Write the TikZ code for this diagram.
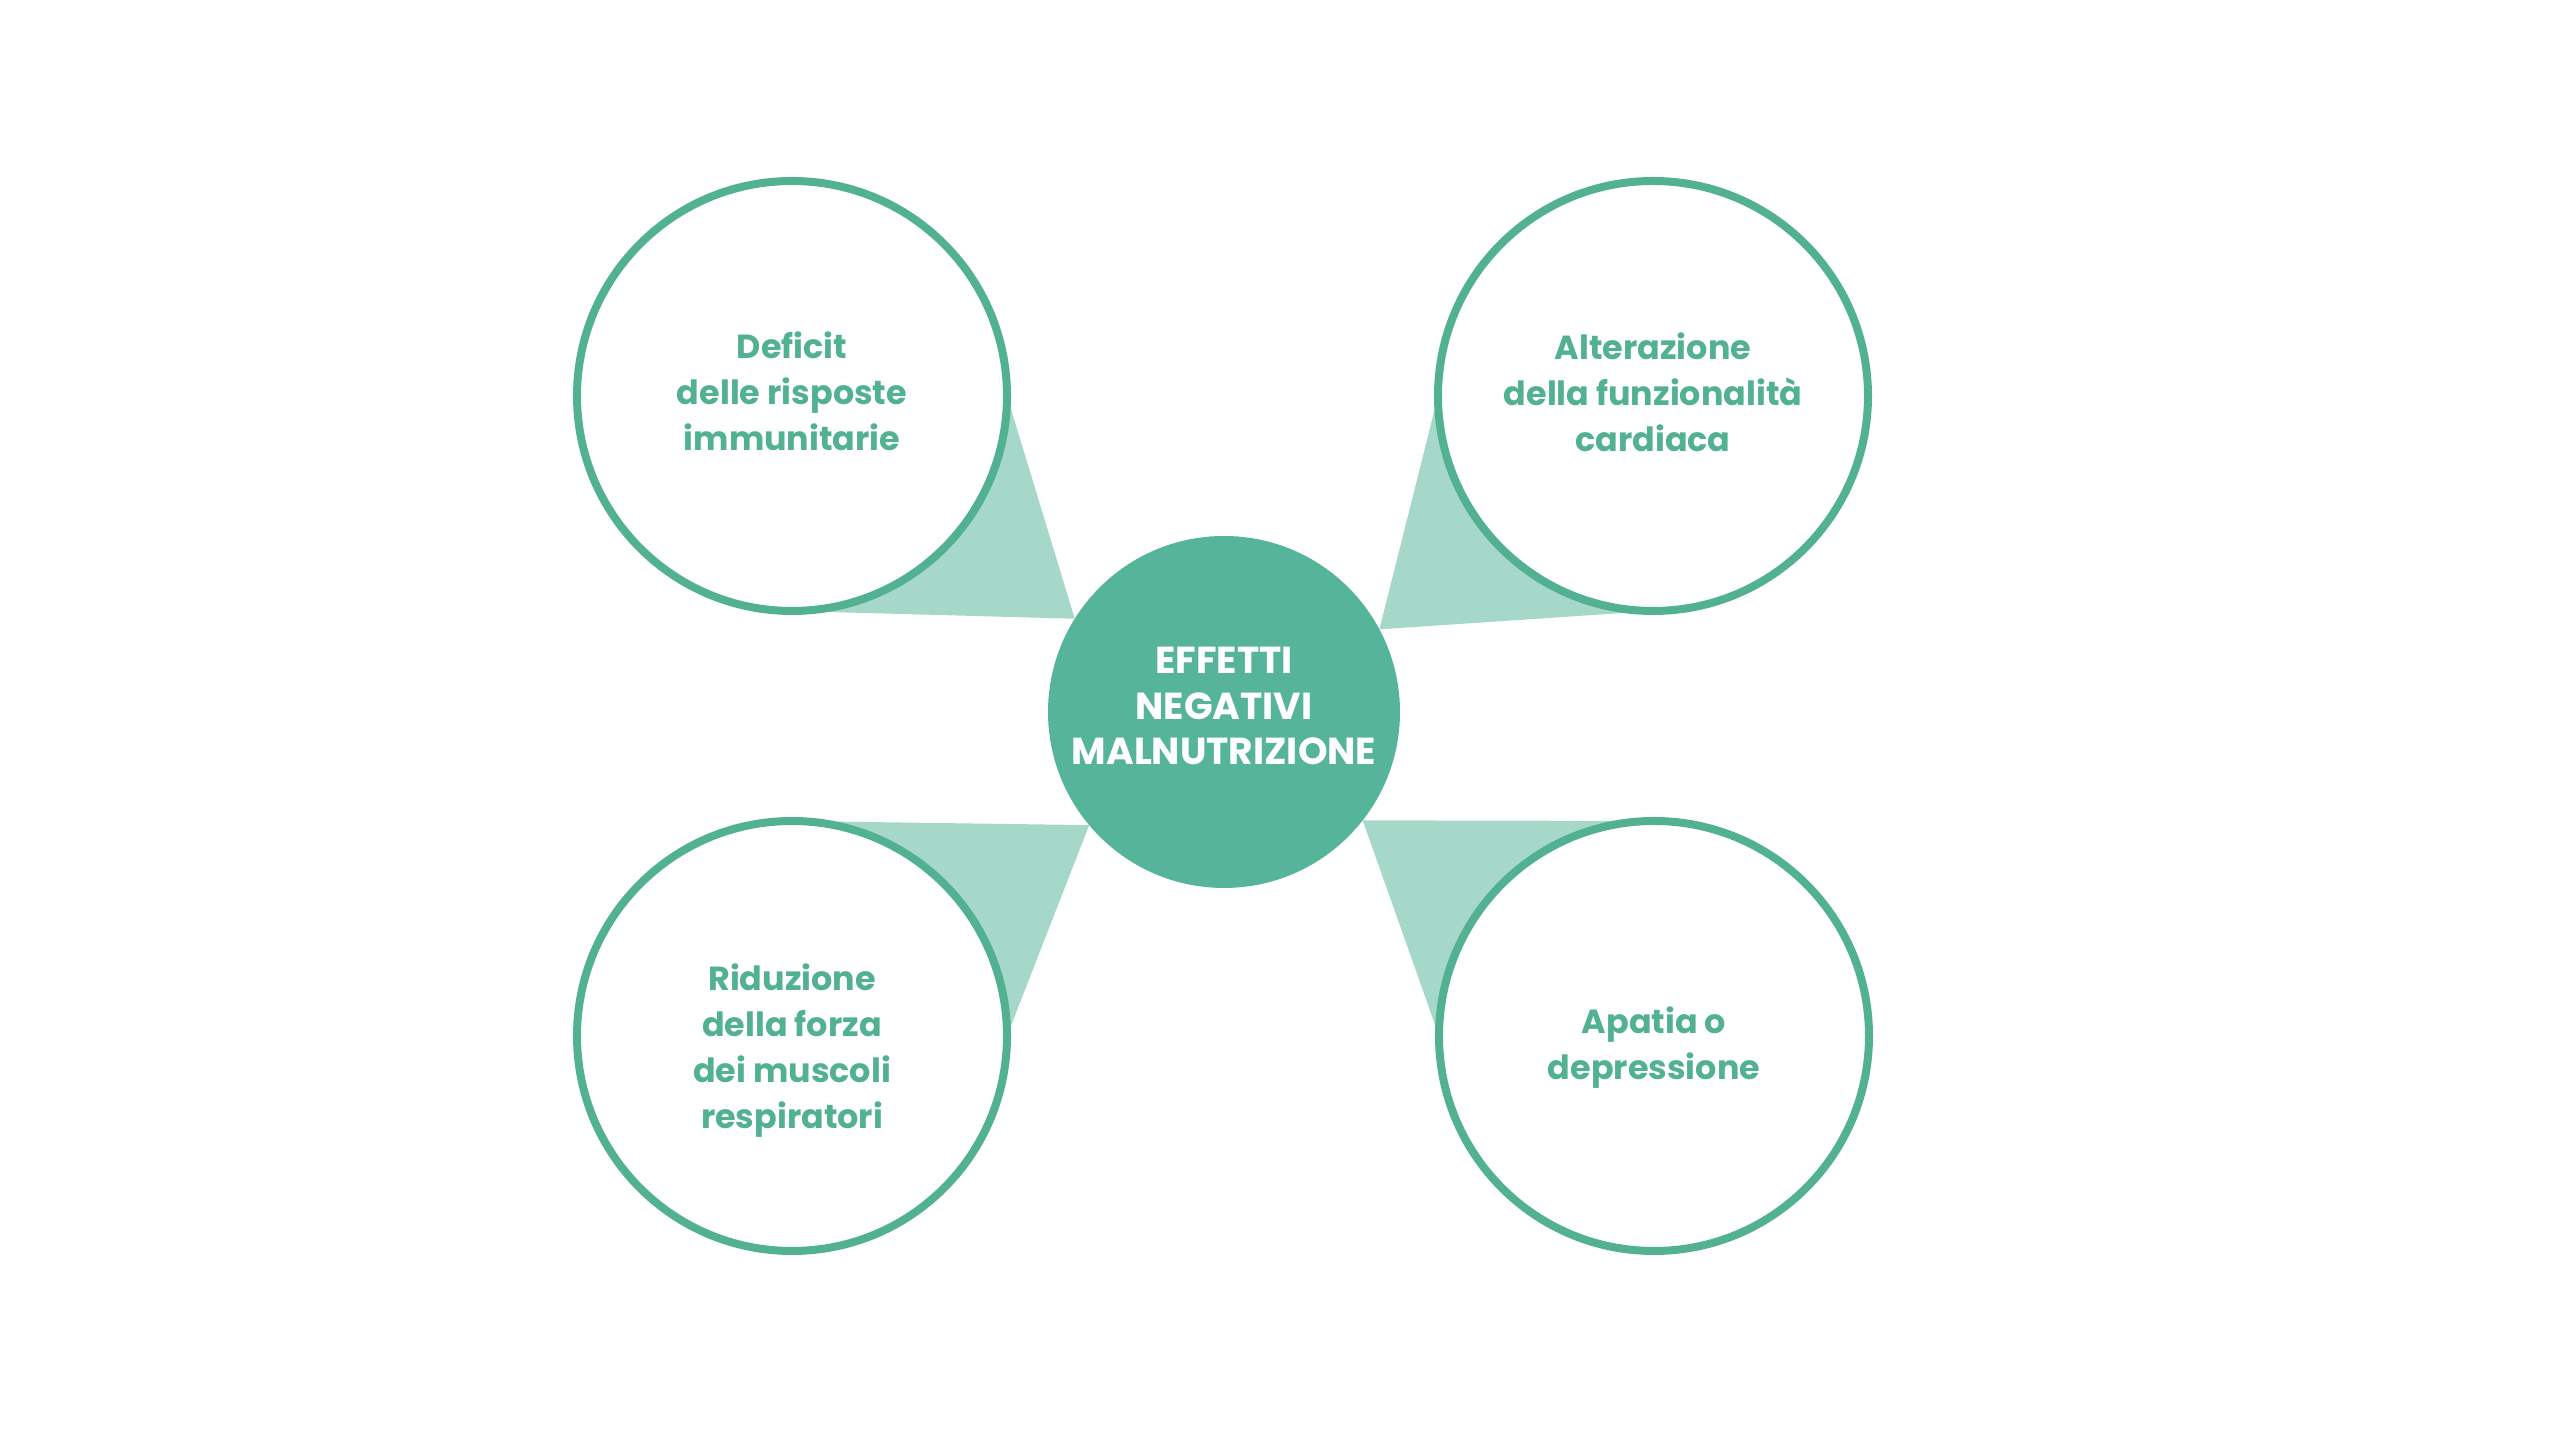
\documentclass[tikz,border=0pt]{standalone}
\usepackage{fontspec}
\setmainfont{Poppins}
\usetikzlibrary{backgrounds}
\definecolor{verde}{HTML}{52B192}
\definecolor{verdepieno}{HTML}{56B49A}
\definecolor{verdechiaro}{HTML}{A5D8C8}
\tikzset{
    bubble/.style={circle, draw=verde, line width=0.08cm, fill=white, minimum size=4.3cm,
        inner sep=0pt, outer sep=0pt},
    testo/.style={align=center, text=verde, font=\bfseries\fontsize{9.5}{13.1}\selectfont},
    centro/.style={circle, fill=verdepieno, minimum size=3.52cm, inner sep=0pt, outer sep=0pt},
    testocentro/.style={align=center, text=white, font=\bfseries\fontsize{10.7}{12.9}\selectfont},
    cono/.style={fill=verdechiaro}
}
\begin{document}
\begin{tikzpicture}
                \useasboundingbox (0,0) rectangle (25.6,14.35);
                \node(tl) at(7.92, 10.39) [bubble] {};
                \node(tr) at(16.53, 10.39) [bubble] {};
                \node(bl) at(7.92, 3.99) [bubble] {};
                \node(br) at(16.54, 3.99) [bubble] {};
                \node(mid) at(12.24, 7.23) [centro] {};
                \node(tl_t) at(tl) [testo, yshift=0.05cm] {Deficit\\delle risposte\\immunitarie};
                \node(tr_t) at(tr) [testo, yshift=0.035cm] {Alterazione\\della funzionalità\\cardiaca};
                \node(bl_t) at(bl) [testo, yshift=-0.15cm] {Riduzione\\della forza\\dei muscoli\\respiratori};
                \node(br_t) at(br) [testo, yshift=-0.12cm] {Apatia o\\depressione};
                \node(mid_t) at(mid) [testocentro, yshift=0.06cm] {EFFETTI\\NEGATIVI\\MALNUTRIZIONE};
                % wedges behind the circles
                \begin{scope}[on background layer]
                    \fill[cono] (tl.east) -- (mid.148.5) -- (tl.south) -- cycle;
                    \fill[cono] (tr.west) -- (mid.28.6) -- (tr.south) -- cycle;
                    \fill[cono] (bl.north) -- (mid.220.5) -- (bl.east) -- cycle;
                    \fill[cono] (br.north) -- (mid.-38) -- (br.west) -- cycle;
                \end{scope}
            \end{tikzpicture}
\end{document}
